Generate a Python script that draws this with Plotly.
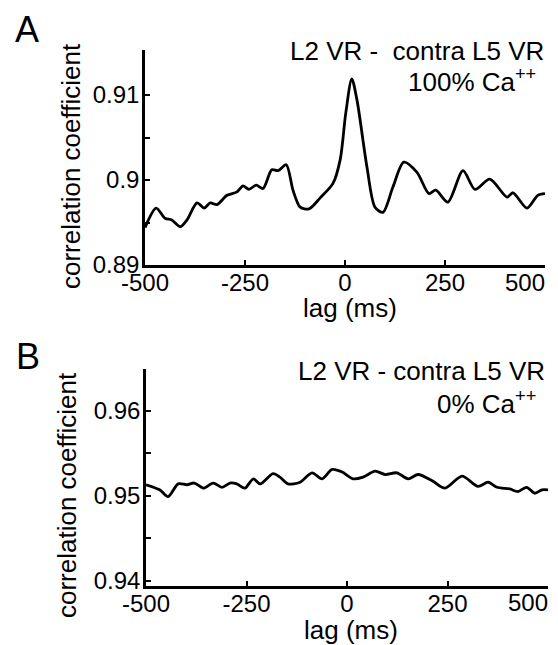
import plotly.graph_objects as go

# Panel A: 100% Ca++
lag_a = [-500, -472, -450, -433, -412, -395, -370, -352, -337, -320, -295, -270, -255, -240,
         -222, -205, -183, -167, -147, -130, -112, -90, -62, -30, -12, 2, 17, 30, 55, 75, 95,
         120, 147, 180, 210, 227, 257, 295, 325, 362, 405, 420, 455, 482, 500]
corr_a = [0.8944, 0.8967, 0.8955, 0.8953, 0.8945, 0.8953, 0.8973, 0.8967, 0.8973, 0.8971,
          0.8982, 0.8986, 0.8993, 0.8989, 0.8994, 0.8990, 0.9012, 0.9011, 0.9018, 0.8988,
          0.8968, 0.8966, 0.8979, 0.8996, 0.9024, 0.9079, 0.9119, 0.9094, 0.9015, 0.8968,
          0.8962, 0.8992, 0.9021, 0.9009, 0.8984, 0.8988, 0.8974, 0.9011, 0.8989, 0.9001,
          0.8980, 0.8985, 0.8967, 0.8982, 0.8984]

# Panel B: 0% Ca++
lag_b = [-500, -466, -445, -420, -398, -380, -357, -333, -311, -291, -274, -254, -233, -216,
         -184, -167, -147, -117, -87, -62, -37, -12, 15, 40, 70, 95, 124, 152, 177, 214, 244,
         286, 326, 351, 373, 405, 425, 447, 467, 485, 500]
corr_b = [0.9513, 0.9507, 0.9499, 0.9514, 0.9513, 0.9515, 0.9509, 0.9515, 0.9510, 0.9515,
          0.9514, 0.9509, 0.9520, 0.9514, 0.9526, 0.9522, 0.9514, 0.9516, 0.9527, 0.9520,
          0.9531, 0.9528, 0.9520, 0.9522, 0.9529, 0.9525, 0.9527, 0.9520, 0.9525, 0.9517,
          0.9509, 0.9523, 0.9511, 0.9516, 0.9510, 0.9508, 0.9505, 0.9510, 0.9503, 0.9507,
          0.9507]

x_ticks = [-500, -250, 0, 250, 500]
x_ticklabels = ["-500", "-250", "0", "250", ""]   # last label drawn right-aligned below
x_last_label = "500"
ya_ticks = [0.89, 0.895, 0.90, 0.905, 0.91]
ya_ticklabels = ["0.89", "", "0.9", "", "0.91"]
yb_ticks = [0.94, 0.945, 0.95, 0.955, 0.96]
yb_ticklabels = ["0.94", "", "0.95", "", "0.96"]

FONT = "Arial, Liberation Sans, sans-serif"
W, H = 558, 645

fig = go.Figure()
fig.add_trace(go.Scatter(x=lag_a, y=corr_a, mode="lines", xaxis="x", yaxis="y",
                         line=dict(color="black", width=2.8, shape="spline", smoothing=0.8),
                         showlegend=False, cliponaxis=False))
fig.add_trace(go.Scatter(x=lag_b, y=corr_b, mode="lines", xaxis="x2", yaxis="y2",
                         line=dict(color="black", width=2.8, shape="spline", smoothing=0.8),
                         showlegend=False, cliponaxis=False))

axis_common = dict(showline=True, linecolor="black", linewidth=2.5, ticks="inside",
                   ticklen=5, tickwidth=2, tickcolor="black", showgrid=False, zeroline=False,
                   tickfont=dict(family=FONT, size=24, color="black"), mirror=False,
                   automargin=False, ticklabeloverflow="allow")

fig.update_layout(
    template="none",
    width=W, height=H, margin=dict(l=0, r=0, t=0, b=0, pad=0),
    paper_bgcolor="white", plot_bgcolor="white",
    xaxis=dict(domain=[145 / W, 545 / W], range=[-500, 500], anchor="y",
               tickvals=x_ticks, ticktext=x_ticklabels, ticklabelstandoff=-6, **axis_common),
    yaxis=dict(domain=[1 - 265 / H, 1 - 50 / H], range=[0.89, 0.9153], anchor="x",
               tickvals=ya_ticks, ticktext=ya_ticklabels, ticklabelstandoff=-2, **axis_common),
    xaxis2=dict(domain=[146 / W, 548 / W], range=[-500, 500], anchor="y2",
                tickvals=x_ticks, ticktext=x_ticklabels, ticklabelstandoff=-6, **axis_common),
    yaxis2=dict(domain=[1 - 586 / H, 1 - 369 / H], range=[0.9394, 0.9649], anchor="x2",
                tickvals=yb_ticks, ticktext=yb_ticklabels, ticklabelstandoff=-2, **axis_common),
)

def ann(text, x, y, size=26, xanchor="center", yanchor="middle", angle=0):
    fig.add_annotation(text=text, x=x / W, y=1 - y / H, xref="paper", yref="paper",
                       xanchor=xanchor, yanchor=yanchor, textangle=angle, showarrow=False,
                       font=dict(family=FONT, size=size, color="black"))

# Last x tick labels, right-aligned at the axis end (as in the reference)
for xr, ypx in (("x", 282), ("x2", 602)):
    fig.add_annotation(text=x_last_label, x=x_ticks[-1], xref=xr, y=1 - ypx / H, yref="paper",
                       xanchor="right", yanchor="middle", showarrow=False, xshift=2,
                       font=dict(family=FONT, size=24, color="black"))

# Panel letters
ann("A", 27, 29, size=36)
ann("B", 28, 356, size=36)
# Axis titles
ann("correlation coefficient", 71, 166, angle=-90)
ann("correlation coefficient", 67, 495, angle=-90)
ann("lag (ms)", 350, 308)
ann("lag (ms)", 351, 630)
# Condition labels
ann("L2 VR -  contra L5 VR", 546, 51, xanchor="right")
ann("100% Ca<sup>++</sup>", 538, 81, xanchor="right")
ann("L2 VR - contra L5 VR", 547, 371, xanchor="right")
ann("0% Ca<sup>++</sup>", 538, 402, xanchor="right")

fig.write_html("out.html")
